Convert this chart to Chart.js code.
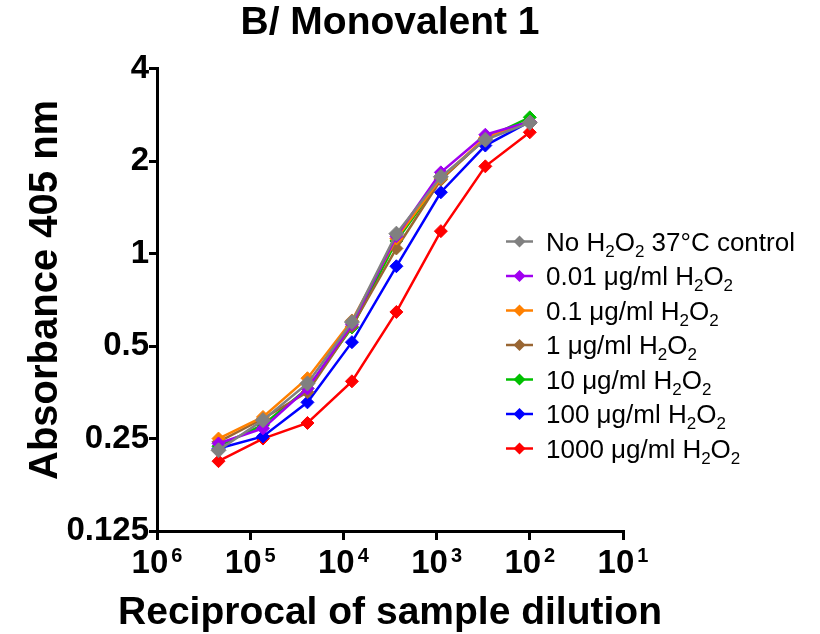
<!DOCTYPE html>
<html>
<head>
<meta charset="utf-8">
<script src="https://cdn.jsdelivr.net/npm/chart.js@4.4.0/dist/chart.umd.min.js"></script>
<style>
  html, body { margin: 0; padding: 0; background: #fff; }
  #wrap { width: 820px; height: 634px; position: relative; }
</style>
</head>
<body>
<div id="wrap"><canvas id="c" width="820" height="634"></canvas></div>
<script>
// Reciprocal of sample dilution (3-fold series)
const dilutions = [218700, 72900, 24300, 8100, 2700, 900, 300, 100];

// Absorbance 405 nm for each treatment
const controlNoH2O2 = [0.229, 0.287, 0.378, 0.599, 1.162, 1.78, 2.35, 2.67];
const h2o2_0_01 = [0.241, 0.270, 0.364, 0.589, 1.14, 1.84, 2.44, 2.69];
const h2o2_0_1 = [0.250, 0.294, 0.393, 0.606, 1.12, 1.76, 2.39, 2.69];
const h2o2_1 = [0.244, 0.290, 0.354, 0.580, 1.04, 1.74, 2.37, 2.69];
const h2o2_10 = [0.236, 0.277, 0.364, 0.575, 1.10, 1.75, 2.37, 2.78];
const h2o2_100 = [0.232, 0.254, 0.328, 0.515, 0.910, 1.585, 2.25, 2.69];
const h2o2_1000 = [0.211, 0.250, 0.281, 0.384, 0.646, 1.184, 1.925, 2.485];

// Tick values
const xTicks = [1e6, 1e5, 1e4, 1e3, 1e2, 1e1];
const yTicks = [0.125, 0.25, 0.5, 1, 2, 4];

// Text
const chartTitle = 'B/ Monovalent 1';
const xTitle = 'Reciprocal of sample dilution';
const yTitle = 'Absorbance 405 nm';

// Legend labels: [before, sub, mid, sub, after]
const seriesLabels = [
  ["No H", "2", "O", "2", " 37\u00B0C control"],
  ["0.01 \u03BCg/ml H", "2", "O", "2", ""],
  ["0.1 \u03BCg/ml H", "2", "O", "2", ""],
  ["1 \u03BCg/ml H", "2", "O", "2", ""],
  ["10 \u03BCg/ml H", "2", "O", "2", ""],
  ["100 \u03BCg/ml H", "2", "O", "2", ""],
  ["1000 \u03BCg/ml H", "2", "O", "2", ""]
];
const seriesValues = [controlNoH2O2, h2o2_0_01, h2o2_0_1, h2o2_1, h2o2_10, h2o2_100, h2o2_1000];
const seriesColors = ["#808080", "#A000F0", "#FF8000", "#996633", "#00C000", "#0000FF", "#FF0000"];

const FONT = "'Liberation Sans', Arial, Helvetica, sans-serif";

const datasets = seriesValues.map((vals, i) => ({
  label: seriesLabels[i].join(""),
  data: vals.map((v, k) => ({ x: dilutions[k], y: v })),
  borderColor: seriesColors[i],
  backgroundColor: seriesColors[i],
  pointBackgroundColor: seriesColors[i],
  pointBorderColor: seriesColors[i],
  borderWidth: 2.5,
  pointStyle: 'rectRot',
  pointRadius: i === 0 ? 7.5 : 6.5,
  pointBorderWidth: 1,
  tension: 0,
  fill: false,
  yAxisID: 'y'
}));

const customText = {
  id: 'customText',
  afterDraw(chart) {
    const ctx = chart.ctx;
    const xs = chart.scales.x;
    const ys = chart.scales.y;
    ctx.save();
    ctx.fillStyle = '#000';
    ctx.textBaseline = 'alphabetic';
    // x tick labels with superscript exponents
    xTicks.forEach(v => {
      const px = xs.getPixelForValue(v);
      const exp = String(Math.round(Math.log10(v)));
      ctx.font = "bold 33px " + FONT;
      const w1 = ctx.measureText("10").width;
      ctx.font = "bold 20px " + FONT;
      const w2 = ctx.measureText(exp).width;
      const gap = 3;
      const start = px - (w1 + gap + w2) / 2;
      ctx.font = "bold 33px " + FONT;
      ctx.textAlign = 'left';
      ctx.fillText("10", start, 573);
      ctx.font = "bold 20px " + FONT;
      ctx.fillText(exp, start + w1 + gap, 562);
    });
    // x axis title
    ctx.font = "bold 39px " + FONT;
    ctx.textAlign = 'center';
    ctx.fillText(xTitle, (xs.left + xs.right) / 2, 624);
    // y axis title
    ctx.save();
    ctx.translate(57, (ys.top + ys.bottom) / 2 - 10);
    ctx.rotate(-Math.PI / 2);
    ctx.font = "bold 40px " + FONT;
    ctx.textAlign = 'center';
    ctx.fillText(yTitle, 0, 0);
    ctx.restore();
    // legend
    ctx.textAlign = 'left';
    const x0 = 506, x1 = 533, tx = 546, y0 = 241.5, dy = 34.5;
    seriesLabels.forEach((parts, i) => {
      const y = y0 + i * dy;
      const c = seriesColors[i];
      ctx.strokeStyle = c;
      ctx.fillStyle = c;
      ctx.lineWidth = 2.5;
      ctx.beginPath();
      ctx.moveTo(x0, y);
      ctx.lineTo(x1, y);
      ctx.stroke();
      const r = 6;
      const cx = (x0 + x1) / 2;
      ctx.beginPath();
      ctx.moveTo(cx, y - r);
      ctx.lineTo(cx + r, y);
      ctx.lineTo(cx, y + r);
      ctx.lineTo(cx - r, y);
      ctx.closePath();
      ctx.fill();
      ctx.fillStyle = '#000';
      const base = y + 9;
      let xx = tx;
      parts.forEach((p, k) => {
        if (!p) return;
        const isSub = (k === 1 || k === 3);
        ctx.font = (isSub ? "17px " : "26px ") + FONT;
        ctx.fillText(p, xx, isSub ? base + 6 : base);
        xx += ctx.measureText(p).width;
      });
    });
    ctx.restore();
  }
};

new Chart(document.getElementById('c'), {
  type: 'line',
  data: { datasets },
  plugins: [customText],
  options: {
    responsive: false,
    animation: false,
    devicePixelRatio: 1,
    layout: { padding: { left: 0, right: 40, top: 0, bottom: 0 } },
    plugins: {
      legend: { display: false },
      tooltip: { enabled: false },
      title: {
        display: true,
        text: chartTitle,
        color: '#000',
        font: { family: FONT, size: 39, weight: 'bold' },
        padding: { top: 0, bottom: 22 }
      }
    },
    scales: {
      x: {
        type: 'logarithmic',
        reverse: true,
        min: 10,
        max: 1e6,
        afterBuildTicks: s => { s.ticks = xTicks.map(v => ({ value: v })); },
        afterFit: s => { s.height = 103; },
        ticks: { display: false },
        grid: { drawOnChartArea: false, drawTicks: true, tickLength: 9, color: '#000', lineWidth: 3 },
        border: { display: true, color: '#000', width: 3 },
        title: { display: false }
      },
      y: {
        type: 'logarithmic',
        position: 'left',
        min: 0.125,
        max: 4,
        afterBuildTicks: s => { s.ticks = yTicks.map(v => ({ value: v })); },
        afterFit: s => { s.width = 157; },
        ticks: {
          color: '#000',
          padding: 0,
          font: { family: FONT, size: 33, weight: 'bold' },
          callback: v => String(v)
        },
        grid: { drawOnChartArea: false, drawTicks: true, tickLength: 8, color: '#000', lineWidth: 3 },
        border: { display: true, color: '#000', width: 3 },
        title: { display: false }
      },
      spacer: {
        type: 'linear',
        position: 'right',
        display: true,
        afterFit: s => { s.width = 157; },
        ticks: { display: false },
        grid: { display: false, drawTicks: false },
        border: { display: false }
      }
    }
  }
});
</script>
</body>
</html>
